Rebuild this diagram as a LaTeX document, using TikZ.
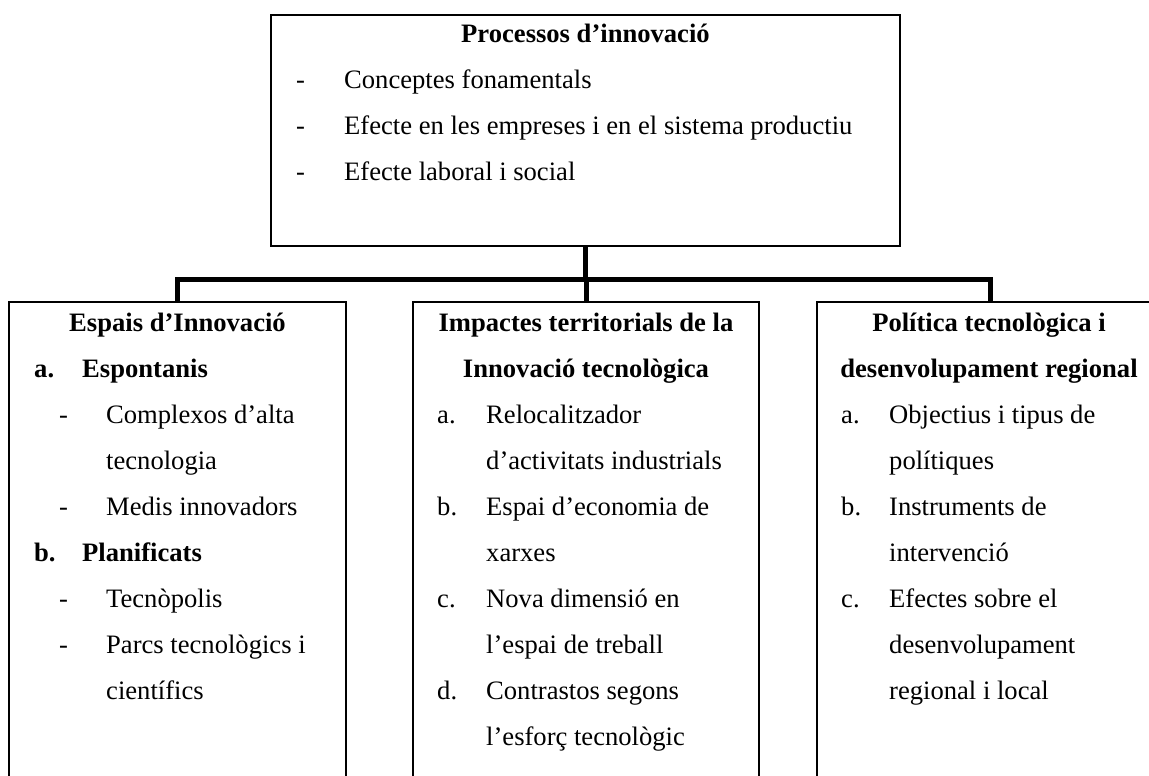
\documentclass[tikz,border=0pt]{standalone}
\usepackage{fontspec}
\setmainfont{Liberation Serif}
\begin{document}
\begin{tikzpicture}[x=1pt,y=-1pt,
  box/.style={draw=black, line width=1.3pt, rectangle, inner sep=0pt},
  conn/.style={draw=black, line width=5pt, line join=miter},
  txt/.style={inner sep=0pt, anchor=base west, font=\fontsize{26.6}{46}\selectfont},
  btxt/.style={txt, font=\fontsize{26.6}{46}\selectfont\bfseries},
  ttl/.style={inner sep=0pt, anchor=base, font=\fontsize{26.6}{46}\selectfont\bfseries}]
\clip (0,0) rectangle (1149,776);
% boxes
\node[box, minimum width=629pt, minimum height=231pt] (top) at (585.5,130.5) {};
\node[box, minimum width=337pt, minimum height=508pt] (left) at (177.5,556) {};
\node[box, minimum width=346pt, minimum height=508pt] (mid) at (586,556) {};
\node[box, minimum width=346pt, minimum height=508pt] (right) at (990,556) {};
% connectors
\coordinate (jy) at (0,279);
\draw[conn] (top.south) -- (top.south |- jy) coordinate (j);
\draw[conn] (left.north) |- (j) -| (right.north);
\draw[conn] (mid.north) -- (mid.north |- jy);
% top box text
\node[ttl] (t0) at (585.5,42.5) {Processos d’innovació};
\node[txt] (t1d) at (296,88.5) {-};
\node[txt] (t1) at (344,88.5) {Conceptes fonamentals};
\node[txt] (t2d) at (296,134.5) {-};
\node[txt] (t2) at (344,134.5) {Efecte en les empreses i en el sistema productiu};
\node[txt] (t3d) at (296,180.5) {-};
\node[txt] (t3) at (344,180.5) {Efecte laboral i social};
% left box text
\node[ttl] (l0) at (177.5,331.5) {Espais d’Innovació};
\node[btxt] (l1a) at (34,377.5) {a.};
\node[btxt] (l1) at (82,377.5) {Espontanis};
\node[txt] (l2d) at (59,423.5) {-};
\node[txt] (l2) at (106,423.5) {Complexos d’alta};
\node[txt] (l3) at (106,469.5) {tecnologia};
\node[txt] (l4d) at (59,515.5) {-};
\node[txt] (l4) at (106,515.5) {Medis innovadors};
\node[btxt] (l5a) at (34,561.5) {b.};
\node[btxt] (l5) at (82,561.5) {Planificats};
\node[txt] (l6d) at (59,607.5) {-};
\node[txt] (l6) at (106,607.5) {Tecnòpolis};
\node[txt] (l7d) at (59,653.5) {-};
\node[txt] (l7) at (106,653.5) {Parcs tecnològics i};
\node[txt] (l8) at (106,699.5) {científics};
% middle box text
\node[ttl] (m0) at (586,331.5) {Impactes territorials de la};
\node[ttl] (m1) at (586,377.5) {Innovació tecnològica};
\node[txt] (m2a) at (437,423.5) {a.};
\node[txt] (m2) at (486,423.5) {Relocalitzador};
\node[txt] (m3) at (486,469.5) {d’activitats industrials};
\node[txt] (m4a) at (437,515.5) {b.};
\node[txt] (m4) at (486,515.5) {Espai d’economia de};
\node[txt] (m5) at (486,561.5) {xarxes};
\node[txt] (m6a) at (437,607.5) {c.};
\node[txt] (m6) at (486,607.5) {Nova dimensió en};
\node[txt] (m7) at (486,653.5) {l’espai de treball};
\node[txt] (m8a) at (437,699.5) {d.};
\node[txt] (m8) at (486,699.5) {Contrastos segons};
\node[txt] (m9) at (486,745.5) {l’esforç tecnològic};
% right box text
\node[ttl] (r0) at (989,331.5) {Política tecnològica i};
\node[ttl] (r1) at (989,377.5) {desenvolupament regional};
\node[txt] (r2a) at (841,423.5) {a.};
\node[txt] (r2) at (889,423.5) {Objectius i tipus de};
\node[txt] (r3) at (889,469.5) {polítiques};
\node[txt] (r4a) at (841,515.5) {b.};
\node[txt] (r4) at (889,515.5) {Instruments de};
\node[txt] (r5) at (889,561.5) {intervenció};
\node[txt] (r6a) at (841,607.5) {c.};
\node[txt] (r6) at (889,607.5) {Efectes sobre el};
\node[txt] (r7) at (889,653.5) {desenvolupament};
\node[txt] (r8) at (889,699.5) {regional i local};
\end{tikzpicture}
\end{document}
